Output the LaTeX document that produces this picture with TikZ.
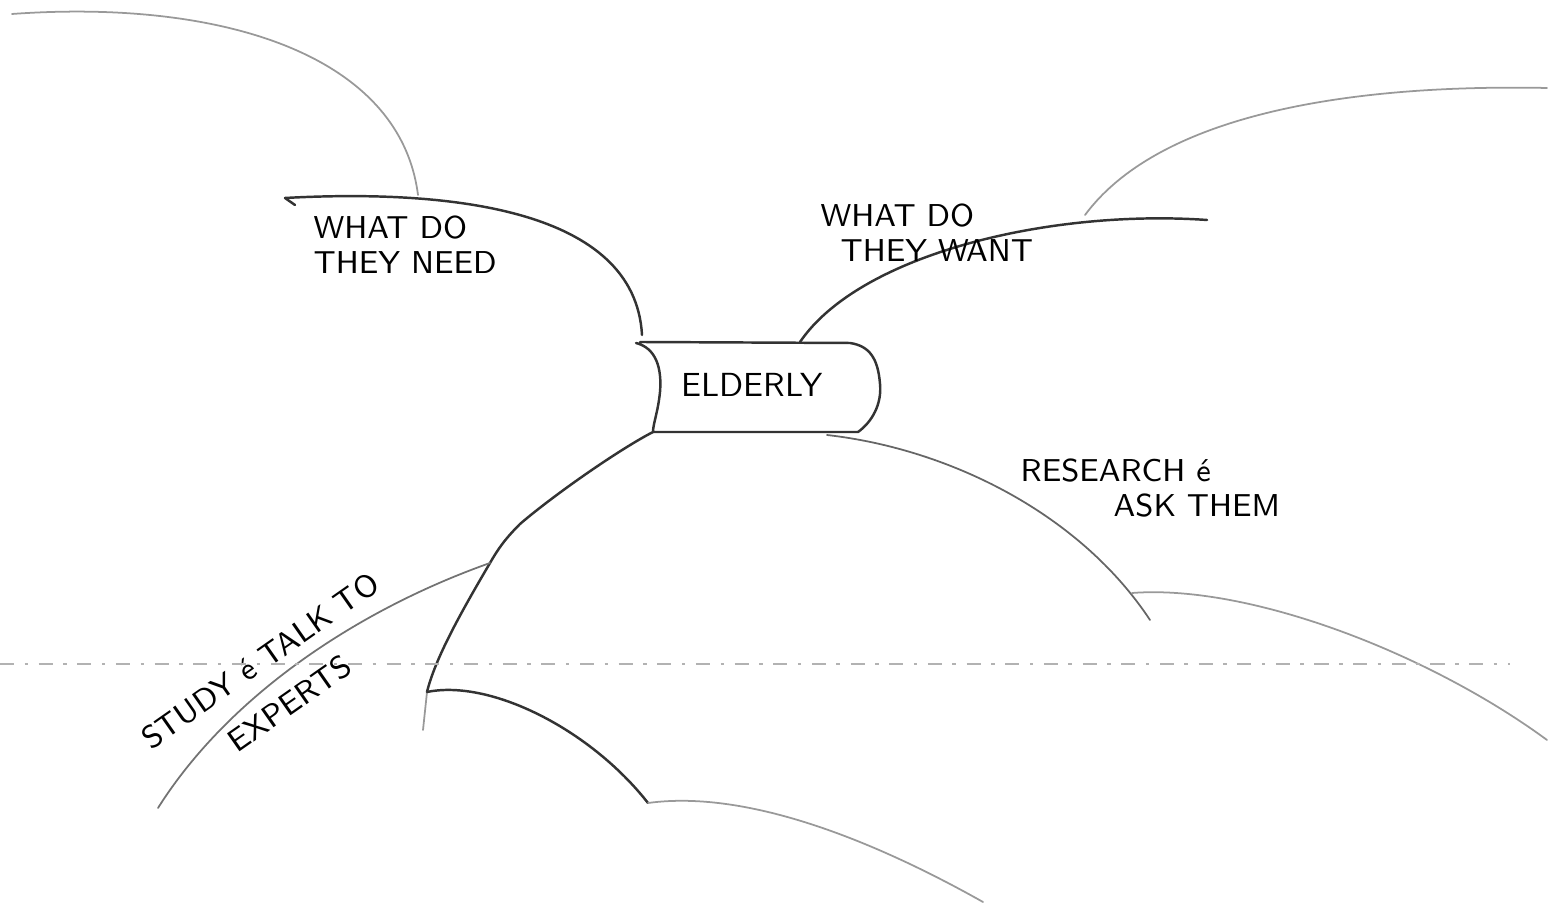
\documentclass[tikz,border=0pt]{standalone}
\usepackage{tikz}
\tikzset{
  pencil/.style={line width=0.7pt, black!80, line cap=round, line join=round},
  faint/.style={line width=0.5pt, black!40, line cap=round},
  fold/.style={line width=0.5pt, black!30, dash pattern=on 4pt off 3pt on 1pt off 3pt},
  note/.style={font=\sffamily\fontsize{9}{10}\selectfont, align=left, inner sep=0pt, anchor=west},
}

\begin{document}
\begin{tikzpicture}
  \useasboundingbox (0,0) rectangle (15.48,9.04);
%centre box
  \node[inner sep=0pt] (elderly) at (7.52,5.19) {\sffamily\fontsize{9.5}{11}\selectfont ELDERLY};
  \coordinate (boxtl) at (6.36,5.61);
  \coordinate (boxbl) at (6.53,4.72);
  \coordinate (boxbr) at (8.58,4.72);
  \coordinate (boxtr) at (8.50,5.61);
  \draw[pencil] (boxtl) .. controls (6.56,5.56) and (6.62,5.36) .. (6.60,5.12)
    .. controls (6.58,4.92) and (6.53,4.80) .. (boxbl) -- (boxbr)
    .. controls (8.72,4.82) and (8.82,5.00) .. (8.80,5.20)
    .. controls (8.78,5.45) and (8.70,5.58) .. (boxtr) -- (6.40,5.62);
%junctions
  \coordinate (needend) at (6.42,5.69);
  \coordinate (needstart) at (2.85,7.06);
  \coordinate (needtop) at (4.18,7.09);
  \coordinate (wantstart) at (8.00,5.62);
  \coordinate (wantend) at (12.07,6.84);
  \coordinate (wantjoin) at (10.85,6.89);
  \coordinate (studyjoin) at (4.90,3.41);
  \coordinate (lowjoin) at (4.27,2.12);
  \coordinate (bottomjoin) at (6.48,1.01);
  \coordinate (researchstart) at (8.27,4.69);
  \coordinate (researchjoin) at (11.32,3.11);
  \coordinate (researchend) at (11.50,2.84);
%free ends
  \coordinate (topleft) at (0.12,8.90);
  \coordinate (topright) at (15.47,8.16);
  \coordinate (studyend) at (1.58,0.96);
  \coordinate (bottomend) at (9.83,0.02);
  \coordinate (rightend) at (15.47,1.64);
%what do they need
  \draw[pencil] (needstart) .. controls (4.50,7.15) and (6.35,6.95) .. (needend);
  \draw[pencil] (needstart) -- (2.95,6.99);
  \draw[faint] (topleft) .. controls (2.20,9.05) and (4.00,8.50) .. (needtop);
  \node[note] (need) at (3.13,6.59) {WHAT DO\\THEY NEED};
%what do they want
  \draw[pencil] (wantstart) .. controls (8.60,6.50) and (10.50,6.95) .. (wantend);
  \draw[faint] (wantjoin) .. controls (11.60,7.90) and (13.50,8.20) .. (topright);
  \node[note] (want) at (8.20,6.71) {WHAT DO\\\hspace*{2mm}THEY WANT};
%research
  \draw[faint, black!60] (researchstart) .. controls (9.50,4.55) and (10.80,3.90) .. (researchend);
  \draw[faint] (researchjoin) .. controls (12.50,3.20) and (14.30,2.50) .. (rightend);
  \node[note] (research) at (10.20,4.16) {RESEARCH é\\\hspace*{9.3mm}ASK THEM};
%study and below
  \draw[pencil] (boxbl) .. controls (6.20,4.55) and (5.55,4.10) .. (5.20,3.80)
    .. controls (5.05,3.65) and (4.98,3.55) .. (studyjoin);
  \draw[pencil] (studyjoin) .. controls (4.60,2.90) and (4.35,2.45) .. (lowjoin);
  \draw[faint] (lowjoin) -- (4.23,1.74);
  \draw[faint, black!55] (studyjoin) .. controls (3.60,2.95) and (2.30,2.10) .. (studyend);
  \node[font=\sffamily\fontsize{9}{14.8}\selectfont, align=center, inner sep=0pt,
    rotate=35] (study) at (2.75,2.22) {STUDY é TALK TO\\EXPERTS};
  \draw[pencil] (lowjoin) .. controls (4.90,2.25) and (5.90,1.75) .. (bottomjoin);
  \draw[faint] (bottomjoin) .. controls (7.50,1.15) and (8.80,0.60) .. (bottomend);
%fold of the sheet
  \draw[fold] (0,2.40) -- (15.10,2.40);
\end{tikzpicture}
\end{document}
